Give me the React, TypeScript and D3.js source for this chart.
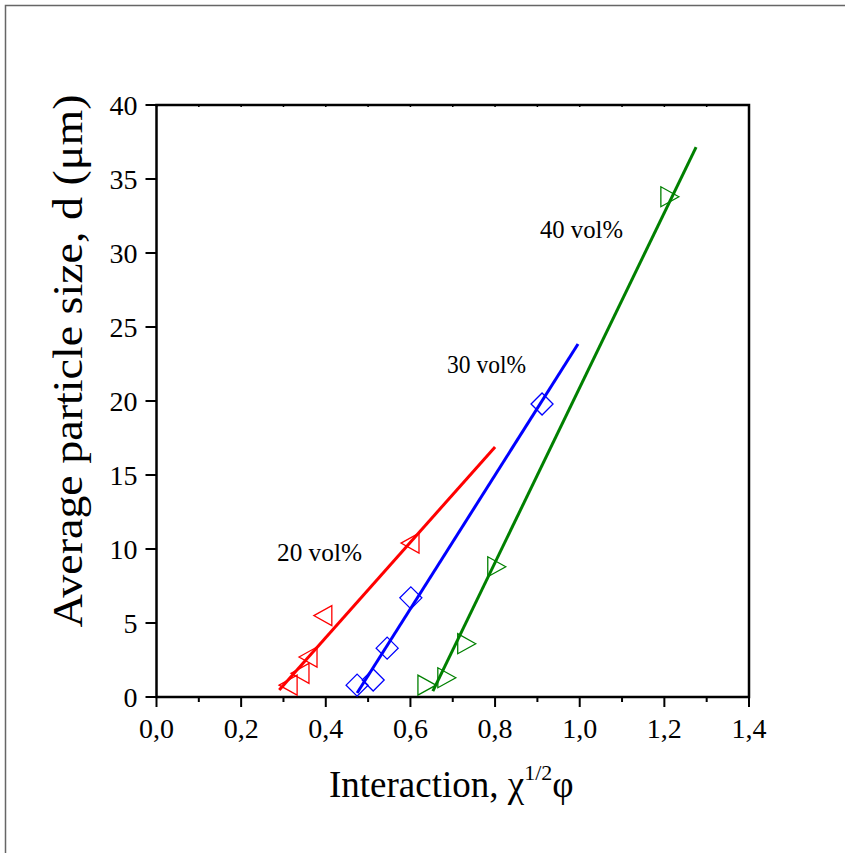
import React from 'react';
import * as d3 from 'd3';

// 20 vol% (left triangles), 30 vol% (diamonds), 40 vol% (right triangles)
const x20 = [0.311, 0.339, 0.358, 0.393, 0.599];
const y20 = [0.8, 1.6, 2.7, 5.5, 10.4];
const x30 = [0.474, 0.512, 0.545, 0.601, 0.911];
const y30 = [0.8, 1.15, 3.3, 6.7, 19.8];
const x40 = [0.639, 0.686, 0.733, 0.804, 1.213];
const y40 = [0.8, 1.3, 3.6, 8.8, 33.8];

// fitted lines: [x, y] at both ends
const fit20 = [[0.29, 0.47], [0.8, 16.9]];
const fit30 = [[0.474, 0.27], [0.996, 23.85]];
const fit40 = [[0.653, 0.4], [1.275, 37.16]];

const xTicks = [0, 0.2, 0.4, 0.6, 0.8, 1.0, 1.2, 1.4];
const yTicks = [0, 5, 10, 15, 20, 25, 30, 35, 40];

const serif = '"Liberation Serif", "Times New Roman", serif';

export default function App() {
  const x = d3.scaleLinear().domain([0, 1.4]).range([156.5, 749]);
  const y = d3.scaleLinear().domain([0, 40]).range([697, 105]);
  const line = d3.line<number[]>().x(d => x(d[0])).y(d => y(d[1]));
  const minor = d3.range(0, 1.41, 0.1);

  const triLeft = (cx: number, cy: number) =>
    `M${cx - 9},${cy} L${cx + 9},${cy - 10} L${cx + 9},${cy + 10} Z`;
  const triRight = (cx: number, cy: number) =>
    `M${cx + 9},${cy} L${cx - 9},${cy - 10} L${cx - 9},${cy + 10} Z`;
  const diamond = (cx: number, cy: number) =>
    `M${cx},${cy - 11} L${cx + 11},${cy} L${cx},${cy + 11} L${cx - 11},${cy} Z`;

  return (
    <svg width={845} height={853} style={{ position: 'absolute', left: 0, top: 0 }}>
      <rect width={845} height={853} fill="#fff" />
      {/* outer frame */}
      <path d="M5.5,853 L5.5,5.5 L845,5.5" fill="none" stroke="#666" strokeWidth={1.5} />

      {/* plot box */}
      <rect x={x(0)} y={y(40)} width={x(1.4) - x(0)} height={y(0) - y(40)}
        fill="none" stroke="#000" strokeWidth={2.5} />

      {/* bottom ticks */}
      {minor.map((t, i) => (
        <line key={'bm' + i} x1={x(t)} x2={x(t)} y1={y(0)}
          y2={y(0) + (i % 2 === 0 ? 10 : 5)} stroke="#000" strokeWidth={2} />
      ))}
      {/* top ticks */}
      {minor.map((t, i) => (
        <line key={'tm' + i} x1={x(t)} x2={x(t)} y1={y(40)} y2={y(40) + 2}
          stroke="#000" strokeWidth={1.5} />
      ))}
      {xTicks.map(t => (
        <text key={'xl' + t} x={x(t)} y={y(0) + 41} textAnchor="middle"
          fontFamily={serif} fontSize={28}>{t.toFixed(1).replace('.', ',')}</text>
      ))}

      {/* left ticks */}
      {yTicks.map(t => (
        <g key={'yt' + t}>
          <line x1={x(0) - 11} x2={x(0)} y1={y(t)} y2={y(t)} stroke="#000" strokeWidth={2} />
          <text x={x(0) - 19} y={y(t) + 10} textAnchor="end"
            fontFamily={serif} fontSize={28}>{t}</text>
        </g>
      ))}

      {/* fitted lines */}
      <path d={line(fit20) || ''} stroke="#ff0000" strokeWidth={3} fill="none" />
      <path d={line(fit30) || ''} stroke="#0000ff" strokeWidth={3} fill="none" />
      <path d={line(fit40) || ''} stroke="#008000" strokeWidth={3} fill="none" />

      {/* markers */}
      {x20.map((v, i) => (
        <path key={'r' + i} d={triLeft(x(v), y(y20[i]))} fill="none" stroke="#ff0000" strokeWidth={1.3} />
      ))}
      {x30.map((v, i) => (
        <path key={'b' + i} d={diamond(x(v), y(y30[i]))} fill="none" stroke="#0000ff" strokeWidth={1.3} />
      ))}
      {x40.map((v, i) => (
        <path key={'g' + i} d={triRight(x(v), y(y40[i]))} fill="none" stroke="#008000" strokeWidth={1.3} />
      ))}

      {/* annotations */}
      <text x={277} y={561} fontFamily={serif} fontSize={25} textLength={85}
        lengthAdjust="spacingAndGlyphs">20 vol%</text>
      <text x={447} y={373} fontFamily={serif} fontSize={25} textLength={79}
        lengthAdjust="spacingAndGlyphs">30 vol%</text>
      <text x={540} y={238} fontFamily={serif} fontSize={25} textLength={83}
        lengthAdjust="spacingAndGlyphs">40 vol%</text>

      {/* axis titles */}
      <text x={329} y={797} fontFamily={serif} fontSize={37}>
        Interaction, χ<tspan dy={-17} fontSize={22}>1/2</tspan><tspan dy={17}>φ</tspan>
      </text>
      <text transform="translate(82,361) rotate(-90)" textAnchor="middle"
        fontFamily={serif} fontSize={42} textLength={533}
        lengthAdjust="spacingAndGlyphs">Average particle size, d (μm)</text>
    </svg>
  );
}
